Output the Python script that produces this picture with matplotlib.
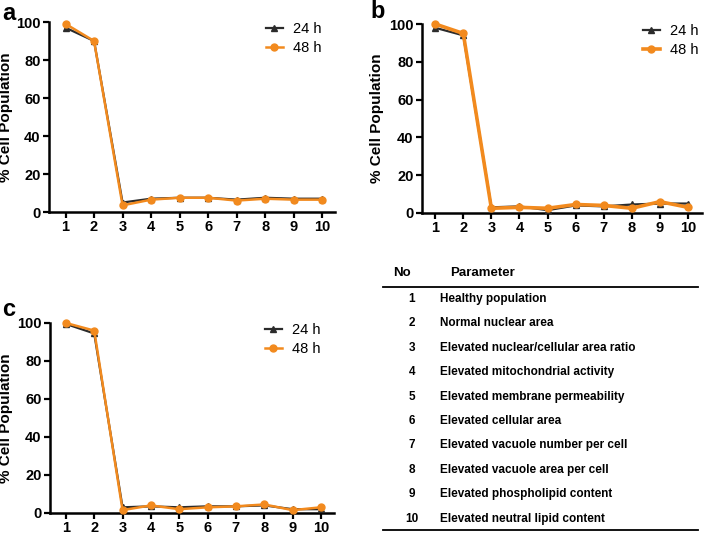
"""
    Three line panels of % cell population by parameter, plus a parameter legend table.
"""
import matplotlib
matplotlib.use("Agg")
import matplotlib.pyplot as plt

plt.rcParams['font.family'] = ['Liberation Sans', 'DejaVu Sans']

# Data
params = [1, 2, 3, 4, 5, 6, 7, 8, 9, 10]

a_24h = [97, 90, 5, 7, 7.5, 7.5, 6.5, 7.5, 7, 7]
a_48h = [99, 90, 3.5, 6.5, 7.5, 7.5, 6, 7, 6.5, 6.5]

b_24h = [98, 94, 3, 3.5, 1.5, 4, 3.5, 4.5, 5, 5]
b_48h = [100, 95, 2.5, 3, 2.5, 4.5, 4, 2.5, 6, 3]

c_24h = [99.5, 94.5, 3, 3.5, 3, 3.5, 3.5, 4, 2, 2]
c_48h = [100, 96, 1.5, 4, 2, 3, 3.5, 4.5, 1.5, 3]

series_labels = ['24 h', '48 h']
yticks = [0, 20, 40, 60, 80, 100]

table_header = ['No', 'Parameter']
table_rows = [
    'Healthy population',
    'Normal nuclear area',
    'Elevated nuclear/cellular area ratio',
    'Elevated mitochondrial activity',
    'Elevated membrane permeability',
    'Elevated cellular area',
    'Elevated vacuole number per cell',
    'Elevated vacuole area per cell',
    'Elevated phospholipid content',
    'Elevated neutral lipid content',
]

W, H = 708, 534
BLACK = '#2b2b2b'
ORANGE = '#f28a1e'


def px_axes(fig, left, right, bottom, top):
    return fig.add_axes([left / W, 1 - bottom / H, (right - left) / W, (bottom - top) / H])


def draw_panel(ax, y24, y48, xlim, label_x, legend_x, orange_lw=1.8):
    ax.plot(params, y24, color=BLACK, lw=1.6, marker='^', ms=4.5, label=series_labels[0],
            clip_on=False, zorder=3)
    ax.plot(params, y48, color=ORANGE, lw=orange_lw, marker='o', ms=5, label=series_labels[1],
            clip_on=False, zorder=4)
    ax.set_xlim(*xlim)
    ax.set_ylim(0, 100)
    ax.set_xticks(params)
    ax.set_yticks(yticks)
    for s in ['top', 'right']:
        ax.spines[s].set_visible(False)
    for s in ['left', 'bottom']:
        ax.spines[s].set_linewidth(1.8)
        ax.spines[s].set_color('black')
    ax.tick_params(direction='out', length=4, width=1.6, labelsize=10.5, pad=2)
    for t in ax.get_xticklabels() + ax.get_yticklabels():
        t.set_fontweight('bold')
    # label anchor is the right edge of the rotated text
    ax.set_ylabel('% Cell Population', fontsize=11, fontweight='bold')
    ax.yaxis.set_label_coords(label_x, 0.5)
    ax.legend(loc='upper right', bbox_to_anchor=(legend_x, 1.055), frameon=False, fontsize=10.5,
              handlelength=1.2, handletextpad=0.7, labelspacing=0.35, borderaxespad=0.3)
    return ax


fig = plt.figure(figsize=(W / 100, H / 100), dpi=100)

ax_a = px_axes(fig, 49, 335, 212, 22)
draw_panel(ax_a, a_24h, a_48h, (0.42, 10.45), -0.126, 0.99)
ax_b = px_axes(fig, 422, 702, 213, 24)
draw_panel(ax_b, b_24h, b_48h, (0.53, 10.5), -0.136, 1.025, orange_lw=2.6)
ax_c = px_axes(fig, 50, 334, 513, 323)
draw_panel(ax_c, c_24h, c_48h, (0.44, 10.46), -0.13, 0.99)

# Overlay axes in pixel coordinates for panel letters and table
ov = fig.add_axes([0, 0, 1, 1], zorder=-1)
ov.set_xlim(0, W)
ov.set_ylim(H, 0)
ov.axis('off')

for letter, x, y in [('a', 2, 13), ('b', 370, 11), ('c', 2, 310)]:
    ov.text(x, y, letter, fontsize=17, fontweight='bold', ha='left', va='center')

# Table
ov.text(402, 273, table_header[0], fontsize=9.5, fontweight='bold', ha='center', va='center')
ov.text(450, 273, table_header[1], fontsize=9.5, fontweight='bold', ha='left', va='center')
ov.plot([383, 698], [287, 287], color='black', lw=1.3)
row_y0, row_dy = 299, 24.4
for i, text in enumerate(table_rows):
    y = row_y0 + i * row_dy
    ov.text(412, y, str(params[i]), fontsize=8.5, fontweight='bold', ha='center', va='center')
    ov.text(440, y, text, fontsize=8.5, fontweight='bold', ha='left', va='center')
ov.plot([383, 698], [530, 530], color='black', lw=1.3)

fig.savefig('out.png', dpi=100)
